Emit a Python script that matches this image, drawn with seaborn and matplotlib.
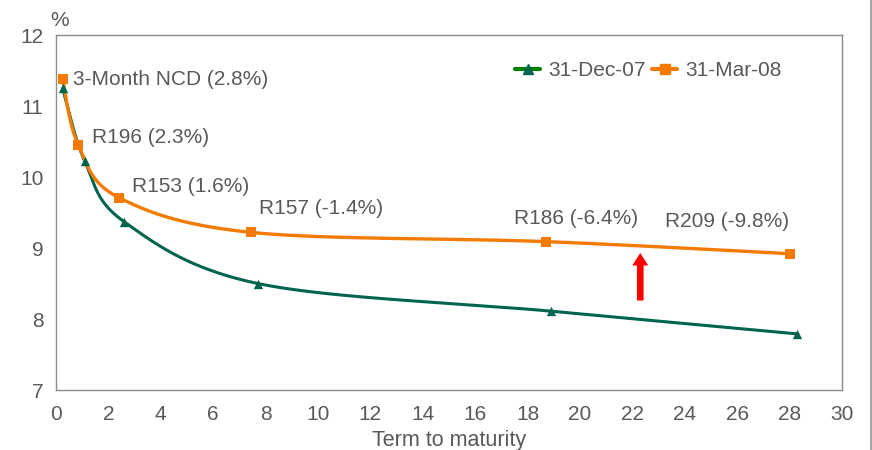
import numpy as np
import pandas as pd
import matplotlib
matplotlib.use("Agg")
import matplotlib.pyplot as plt
from matplotlib.lines import Line2D
import seaborn as sns

# Yield curve points: term to maturity (years) and yield (%)
dec07_term = [0.25, 1.1, 2.6, 7.7, 18.9, 28.3]
dec07_yield = [11.25, 10.22, 9.37, 8.50, 8.11, 7.79]
mar08_term = [0.25, 0.85, 2.4, 7.45, 18.7, 28.0]
mar08_yield = [11.38, 10.45, 9.71, 9.22, 9.09, 8.92]

bond_labels = ["3-Month NCD (2.8%)", "R196 (2.3%)", "R153 (1.6%)",
               "R157 (-1.4%)", "R186 (-6.4%)", "R209 (-9.8%)"]
series_names = ["31-Dec-07", "31-Mar-08"]

GREEN = "#00644f"
ORANGE = "#f47b00"
TEXT = "#595959"
SPINE = "#8c8c8c"
FS = 15


def smooth(xs, ys, n=40):
    """Bezier smoothing through the points (tension 1/6, like a smoothed line)."""
    p = np.column_stack([xs, ys]).astype(float)
    pts = [p[0]] + list(p) + [p[-1]]
    out = []
    for i in range(1, len(pts) - 2):
        p0, p1, p2, p3 = pts[i - 1], pts[i], pts[i + 1], pts[i + 2]
        c1 = p1 + (p2 - p0) / 6.0
        c2 = p2 - (p3 - p1) / 6.0
        t = np.linspace(0, 1, n)[:, None]
        seg = ((1 - t) ** 3) * p1 + 3 * ((1 - t) ** 2) * t * c1 + 3 * (1 - t) * t ** 2 * c2 + t ** 3 * p2
        out.append(seg if i == 1 else seg[1:])
    s = np.vstack(out)
    return s[:, 0], s[:, 1]


sns.set_theme(style="white")
plt.rcParams["font.family"] = ["Liberation Sans", "DejaVu Sans"]

fig = plt.figure(figsize=(8.72, 4.5), dpi=100)
ax = fig.add_axes([56 / 872, 1 - 390 / 450, (842 - 56) / 872, (390 - 35) / 450])

for xs, ys, col, lw, mk, ms in [
    (dec07_term, dec07_yield, GREEN, 2.2, "^", 45),
    (mar08_term, mar08_yield, ORANGE, 2.4, "s", 45),
]:
    sx, sy = smooth(xs, ys)
    sns.lineplot(x=sx, y=sy, sort=False, color=col, linewidth=lw, ax=ax, zorder=3)
    sns.scatterplot(x=xs, y=ys, marker=mk, s=ms, color=col, edgecolor=col,
                    linewidth=0, ax=ax, zorder=4)

# Bond labels
label_pos = [(0.65, 11.37), (1.37, 10.56), (2.9, 9.86), (7.75, 9.56),
             (17.5, 9.42), (23.25, 9.37)]
for (lx, ly), txt in zip(label_pos, bond_labels):
    ax.text(lx, ly, txt, fontsize=FS, color=TEXT, va="center", ha="left")

# Upward shift arrow
ax.annotate("", xy=(22.3, 8.93), xytext=(22.3, 8.26),
            arrowprops=dict(arrowstyle="simple,head_width=1.15,head_length=0.9,tail_width=0.48",
                            color="#ff0000", lw=0, shrinkA=0, shrinkB=0, mutation_scale=10))

ax.set_xlim(0, 30)
ax.set_ylim(7, 12)
ax.set_xticks(np.arange(0, 31, 2))
ax.set_yticks(np.arange(7, 13, 1))
ax.tick_params(axis="both", which="both", direction="out", length=3, width=0.8,
               color=SPINE, labelcolor=TEXT, labelsize=FS)
ax.tick_params(axis="x", pad=8)
ax.tick_params(axis="y", pad=6)
for sp in ax.spines.values():
    sp.set_color(SPINE)
    sp.set_linewidth(1.0)
ax.set_xlabel("Term to maturity", fontsize=FS + 0.5, color=TEXT, labelpad=4)
ax.set_ylabel("")
fig.text(60 / 872, 1 - 20 / 450, "%", fontsize=FS, color=TEXT, ha="center", va="center")

handles = [
    Line2D([], [], color="#008000", linewidth=3, marker="^", markersize=7,
           markerfacecolor=GREEN, markeredgecolor=GREEN),
    Line2D([], [], color=ORANGE, linewidth=3, marker="s", markersize=7,
           markerfacecolor=ORANGE, markeredgecolor=ORANGE),
]
leg = ax.legend(handles, series_names, loc="center left",
                bbox_to_anchor=((515 - 56) / 786, (390 - 71) / 355),
                ncol=2, frameon=False, fontsize=FS, handlelength=1.2,
                handletextpad=0.4, columnspacing=0.3, borderaxespad=0, borderpad=0)
for t in leg.get_texts():
    t.set_color(TEXT)

# Thin grey rule along the right edge
fig.add_artist(Line2D([870.5 / 872, 870.5 / 872], [0, 1], color="#a6a6a6", linewidth=1.5))

fig.savefig("out.png", dpi=100)
